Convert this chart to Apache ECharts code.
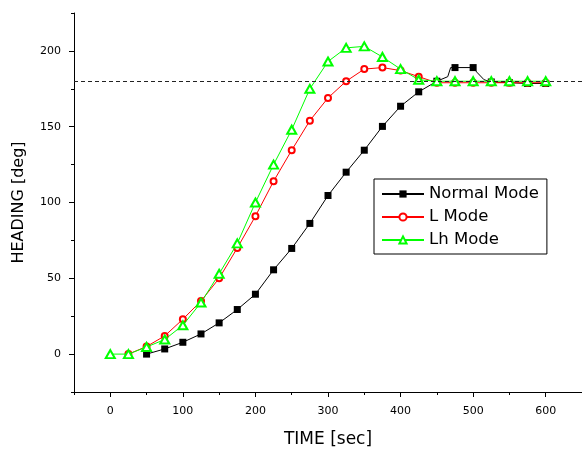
<!DOCTYPE html>
<html><head><meta charset="utf-8">
<script src="https://cdn.jsdelivr.net/npm/echarts@6/dist/echarts.min.js"></script>
<style>html,body{margin:0;padding:0;background:#fff}#c{width:582px;height:453px}</style>
</head><body><div id="c"></div>
<script>
// ---- data ----
const times = [0,25,50,75,100,125,150,175,200,225,250,275,300,325,350,375,400,425,450,475,500,525,550,575,600];
const normalMode = [null,null,0,3.4,7.8,13.3,20.6,29.4,39.5,55.6,69.7,86.2,104.6,120,134.5,150.2,163.5,173,180,189,189,179.5,179,178.5,178.5];
const normalExtraTimes = [465,469,505,515];
const normalExtraValues = [183,189,186,181];
const lMode = [null,0,5,12,23,35,50,70,91,114,134.5,154,169,180,188,189,187,183,179,179,179,179,179,179,179];
const lhMode = [0,0,4.7,9.6,19,34,53,73,100,125,148,175,193,202,203,196,188,181,180,180,180,180,180,180,180];
const referenceHeading = 180;
const seriesNames = ['Normal Mode','L Mode','Lh Mode'];
const xMajorTicks = [0,100,200,300,400,500,600];
const xMinorTicks = [-50,50,150,250,350,450,550,650];
const yMajorTicks = [0,50,100,150,200];
const yMinorTicks = [-25,25,75,125,175,225];

const FONT = 'DejaVu Sans';

function buildData(ts, vs, extraT, extraV) {
  const pts = [];
  ts.forEach((t, i) => { if (vs[i] != null) pts.push({ value: [t, vs[i]] }); });
  (extraT || []).forEach((t, i) => pts.push({ value: [t, extraV[i]], symbol: 'none' }));
  pts.sort((a, b) => a.value[0] - b.value[0]);
  return pts;
}

const chart = echarts.init(document.getElementById('c'), null, { renderer: 'canvas' });

chart.setOption({
  animation: false,
  backgroundColor: '#fff',
  grid: { left: 74, right: -2, top: 13, bottom: 60, containLabel: false },
  legend: {
    orient: 'vertical', left: 374, top: 179,
    padding: [6, 8, 5, 7], itemGap: 5, itemWidth: 42, itemHeight: 9,
    borderColor: '#000', borderWidth: 1, backgroundColor: '#fff',
    textStyle: { fontFamily: FONT, fontSize: 16.5, color: '#000', lineHeight: 18 },
    data: seriesNames
  },
  xAxis: [
    {
      type: 'value', min: -50, max: 650, position: 'bottom',
      axisLine: { onZero: false, lineStyle: { color: '#000', width: 1 } },
      axisTick: { customValues: xMajorTicks, length: 5, lineStyle: { color: '#000' } },
      axisLabel: { customValues: xMajorTicks, color: '#000', fontFamily: FONT, fontSize: 11, margin: 14 },
      splitLine: { show: false },
      name: 'TIME [sec]', nameLocation: 'middle', nameGap: 39,
      nameTextStyle: { fontFamily: FONT, fontSize: 17, color: '#000' }
    },
    {
      type: 'value', min: -50, max: 650, position: 'bottom',
      axisLine: { show: false, onZero: false },
      axisTick: { customValues: xMinorTicks, length: 3, lineStyle: { color: '#000' } },
      axisLabel: { show: false }, splitLine: { show: false }
    }
  ],
  yAxis: [
    {
      type: 'value', min: -25, max: 225, position: 'left',
      axisLine: { show: true, onZero: false, lineStyle: { color: '#000', width: 1 } },
      axisTick: { show: true, customValues: yMajorTicks, length: 5, lineStyle: { color: '#000' } },
      axisLabel: { customValues: yMajorTicks, color: '#000', fontFamily: FONT, fontSize: 11, margin: 13 },
      splitLine: { show: false },
      name: 'HEADING [deg]', nameLocation: 'middle', nameGap: 47,
      nameTextStyle: { fontFamily: FONT, fontSize: 16, color: '#000' }
    },
    {
      type: 'value', min: -25, max: 225, position: 'left',
      axisLine: { show: false, onZero: false },
      axisTick: { show: true, customValues: yMinorTicks, length: 3, lineStyle: { color: '#000' } },
      axisLabel: { show: false }, splitLine: { show: false }
    }
  ],
  series: [
    {
      name: seriesNames[0], type: 'line',
      data: buildData(times, normalMode, normalExtraTimes, normalExtraValues),
      symbol: 'rect', symbolSize: 7, showAllSymbol: true,
      lineStyle: { color: '#000', width: 1 },
      itemStyle: { color: '#000' },
      markLine: {
        silent: true, symbol: 'none', label: { show: false },
        lineStyle: { color: '#222', type: [4, 3], width: 1 },
        data: [{ yAxis: referenceHeading }]
      },
      z: 2
    },
    {
      name: seriesNames[1], type: 'line',
      data: buildData(times, lMode),
      symbol: 'emptyCircle', symbolSize: 6, showAllSymbol: true,
      lineStyle: { color: '#ff0000', width: 1 },
      itemStyle: { color: '#ff0000', borderWidth: 1 },
      z: 3
    },
    {
      name: seriesNames[2], type: 'line',
      data: buildData(times, lhMode),
      symbol: 'emptyTriangle', symbolSize: [9, 8], showAllSymbol: true,
      lineStyle: { color: '#00ff00', width: 1 },
      itemStyle: { color: '#00ff00', borderWidth: 1 },
      z: 4
    }
  ]
});
</script>
</body></html>
